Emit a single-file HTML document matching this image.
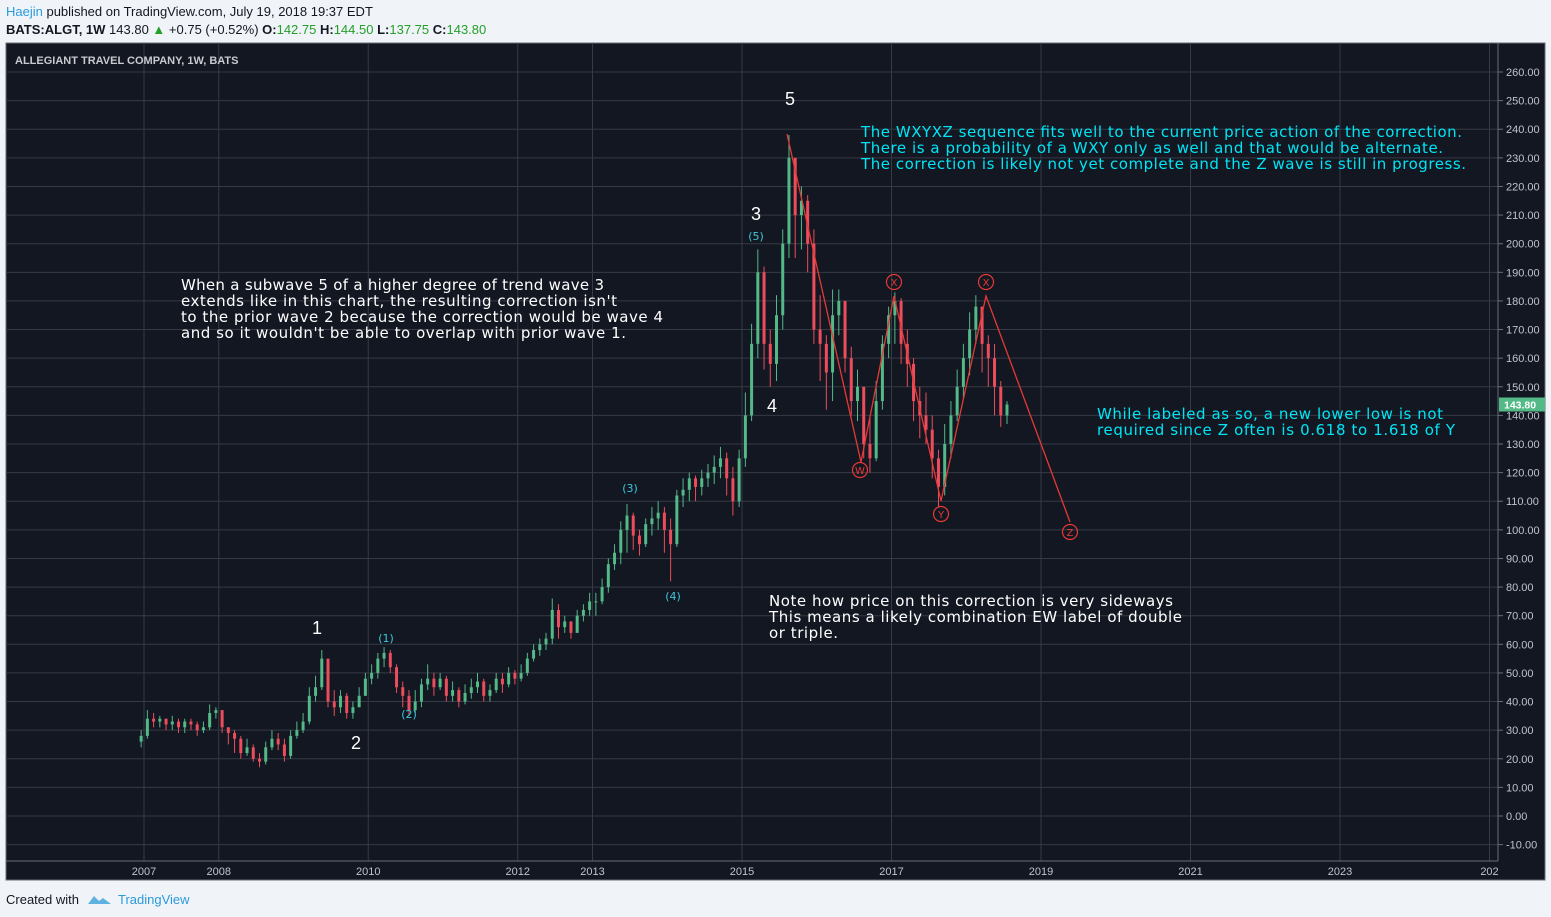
<!DOCTYPE html>
<html><head><meta charset="utf-8"><style>
html,body{margin:0;padding:0;background:#f0f3f7;width:1551px;height:917px;overflow:hidden;font-family:"Liberation Sans",Arial,sans-serif}
svg{position:absolute;left:0;top:0}
</style></head><body>
<svg id="s" width="1551" height="917" xmlns="http://www.w3.org/2000/svg">
<rect x="0" y="0" width="1551" height="917" fill="#f0f3f7"/>
<text x="6" y="16" font-size="13" fill="#131722"><tspan fill="#2a9bdc">Haejin</tspan> published on TradingView.com, July 19, 2018 19:37 EDT</text>
<text x="6" y="34" font-size="13" fill="#131722"><tspan font-weight="bold">BATS:ALGT, 1W</tspan>  143.80 <tspan fill="#22a02a">▲</tspan> +0.75 (+0.52%) <tspan font-weight="bold">O:</tspan><tspan fill="#22a02a">142.75</tspan> <tspan font-weight="bold">H:</tspan><tspan fill="#22a02a">144.50</tspan> <tspan font-weight="bold">L:</tspan><tspan fill="#22a02a">137.75</tspan> <tspan font-weight="bold">C:</tspan><tspan fill="#22a02a">143.80</tspan></text>
<rect x="6" y="43" width="1539" height="837" fill="#131722" stroke="#6a6d78" stroke-width="1"/>
<g id="grid"></g>
<line x1="1498" y1="43" x2="1498" y2="861" stroke="#6a6d78"/>
<line x1="6" y1="861" x2="1498" y2="861" stroke="#6a6d78"/>
<g id="candles"></g>
<text x="15" y="64" font-size="11" font-weight="bold" fill="#c8cad0">ALLEGIANT TRAVEL COMPANY, 1W, BATS</text>
<text x="6" y="904" font-size="13" fill="#131722">Created with</text>
<path d="M88 904 l6 -8 l5 5 l4 -3 l8 6 z" fill="#5fb2e0"/>
<text x="118" y="904" font-size="13" fill="#2a9bdc">TradingView</text>
</svg>
<script>
const yTicks=[260,250,240,230,220,210,200,190,180,170,160,150,140,130,120,110,100,90,80,70,60,50,40,30,20,10,0,-10];
const xTickYears=[2007,2008,2010,2012,2013,2015,2017,2019,2021,2023,2025];
const xTickLabels=["2007","2008","2010","2012","2013","2015","2017","2019","2021","2023","202"];
const startYear=2006.92;
const closes=[28,
34,33,34,32,33,31,33,32,30,31,36,37,
31,29,27,22,24,20,19,24,27,25,21,28,
30,33,42,45,55,40,38,42,36,38,42,48,
50,55,57,52,45,42,37,40,46,48,45,48,
42,44,40,43,45,47,42,44,48,46,50,48,
50,55,58,60,62,72,66,68,64,70,72,75,
75,80,88,92,100,105,98,95,102,104,106,100,
95,112,114,118,115,118,120,122,125,118,110,125,
140,165,190,165,158,175,200,230,210,215,200,170,
165,155,175,180,160,145,150,130,125,145,165,175,
180,165,158,145,140,135,125,115,130,140,150,160,
170,178,165,160,150,140,143.8];
const highs=[30,
37,36,35,34,35,34,34,34,33,33,39,38,
37,31,30,28,27,25,22,26,30,29,27,30,
33,36,45,49,58,53,44,44,43,40,45,50,
53,57,59,58,53,47,44,44,48,53,50,50,
49,47,45,46,48,50,48,46,50,50,52,51,
53,57,60,62,64,76,74,70,68,72,74,78,
78,83,90,95,103,109,106,100,104,108,110,108,
104,114,118,120,119,121,123,126,129,127,122,128,
148,172,198,192,170,182,205,238,228,220,217,205,
182,168,184,184,180,164,156,150,140,152,168,178,
183,181,170,160,150,148,140,128,137,145,156,165,
176,182,178,168,165,152,145];
const lows=[24,
27,31,31,30,30,29,29,30,28,29,30,34,
29,25,22,20,21,19,17,18,23,23,19,20,
27,29,32,40,44,38,35,36,34,34,38,42,
46,48,52,50,43,38,35,36,38,44,42,44,
40,40,38,39,41,43,40,40,43,43,45,46,
47,49,54,56,58,60,62,64,62,64,68,70,
70,74,78,86,88,92,93,91,94,98,100,92,
82,94,108,110,110,112,115,116,118,112,105,108,
122,138,160,156,150,152,170,195,195,198,190,165,
152,142,145,168,155,140,138,125,120,124,142,160,
165,158,150,138,132,130,118,108,112,125,138,146,
154,165,155,150,140,136,137];
const NS="http://www.w3.org/2000/svg";
function yS(v){return 816-v*2.8615;}
function xS(t){return 144+(t-2007)*74.75;}
function mk(tag,attrs,parent){const e=document.createElementNS(NS,tag);for(const k in attrs)e.setAttribute(k,attrs[k]);parent.appendChild(e);return e;}
const grid=document.getElementById('grid');
yTicks.forEach(v=>{
  const l=mk('line',{x1:6,x2:1498,y1:yS(v),y2:yS(v),stroke:'#363a45'},grid);
  
  
  const tk=mk('line',{x1:1498,x2:1503,y1:yS(v),y2:yS(v),stroke:'#6a6d78'},grid);
  
  
  const t=mk('text',{x:1506,y:yS(v)+4,'font-size':11,fill:'#c0c3ca'},grid);
  t.textContent=v.toFixed(2);
  
  
});
xTickYears.forEach((yr,i)=>{
  const x=xS(yr);
  const l=mk('line',{x1:x,x2:x,y1:43,y2:861,stroke:'#363a45'},grid);
  
  
  const t=mk('text',{x:x,y:875,'font-size':11,fill:'#c0c3ca','text-anchor':'middle'},grid);
  t.textContent=xTickLabels[i];
  
  
});
const cg=document.getElementById('candles');
closes.forEach((c,i)=>{
  const o=i===0?closes[0]-2:closes[i-1];
  const x=xS(startYear+i/12+1/24);
  const up=c>=o;const col=up?'#53b987':'#eb4d5c';
  const w=mk('line',{x1:x,x2:x,y1:yS(highs[i]),y2:yS(lows[i]),stroke:col,'stroke-width':1},cg);
  
  
  const top=yS(Math.max(o,c)),bot=yS(Math.min(o,c));
  const b=mk('rect',{x:x-1.5,y:top,width:3,height:Math.max(1,bot-top),fill:col},cg);
  
  
});
const last=closes[closes.length-1];
const pl=mk('rect',{x:1499,y:yS(last)-7,width:46,height:14,fill:'#53b987'},cg);


const pt=mk('text',{x:1504,y:yS(last)+4,'font-size':10.5,'font-weight':'bold',fill:'#fff'},cg);
pt.textContent=last.toFixed(2);


</script>
<svg width="1551" height="917" xmlns="http://www.w3.org/2000/svg" style="pointer-events:none">
<g font-family="'DejaVu Sans',Verdana,sans-serif">
<polyline points="787,134 861,462 894,296 941,501 986,296 1070,522" fill="none" stroke="#e53935" stroke-width="1.3"/>
<g fill="none" stroke="#e53935" stroke-width="1.2">
<circle cx="894" cy="282" r="7.5"/><circle cx="986" cy="282" r="7.5"/><circle cx="860" cy="470" r="7.5"/><circle cx="941" cy="514" r="7.5"/><circle cx="1070" cy="532" r="7.5"/></g>
<g fill="#e53935" font-size="10" text-anchor="middle">
<text x="894" y="286">X</text><text x="986" y="286">X</text><text x="860" y="474">W</text><text x="941" y="518">Y</text><text x="1070" y="536">Z</text></g>
<g fill="#ffffff" font-size="18" text-anchor="middle" font-family="'Liberation Sans',sans-serif">
<text x="790" y="105">5</text><text x="756" y="220">3</text><text x="772" y="412">4</text><text x="317" y="634">1</text><text x="356" y="749">2</text></g>
<g fill="#3cc8dc" font-size="11" text-anchor="middle">
<text x="756" y="240">(5)</text><text x="630" y="492">(3)</text><text x="673" y="600">(4)</text><text x="386" y="642">(1)</text><text x="409" y="718">(2)</text></g>
<g fill="#ffffff" font-size="15">
<text x="181" y="290" textLength="423">When a subwave 5 of a higher degree of trend wave 3</text>
<text x="181" y="306" textLength="436">extends like in this chart, the resulting correction isn't</text>
<text x="181" y="322" textLength="482">to the prior wave 2 because the correction would be wave 4</text>
<text x="181" y="338" textLength="445">and so it wouldn't be able to overlap with prior wave 1.</text></g>
<g fill="#00e5f5" font-size="15">
<text x="861" y="137" textLength="601">The WXYXZ sequence fits well to the current price action of the correction.</text>
<text x="861" y="153" textLength="582">There is a probability of a WXY only as well and that would be alternate.</text>
<text x="861" y="169" textLength="605">The correction is likely not yet complete and the Z wave is still in progress.</text></g>
<g fill="#00e5f5" font-size="15">
<text x="1097" y="419" textLength="346">While labeled as so, a new lower low is not</text>
<text x="1097" y="435" textLength="358">required since Z often is 0.618 to 1.618 of Y</text></g>
<g fill="#ffffff" font-size="15">
<text x="769" y="606" textLength="404">Note how price on this correction is very sideways</text>
<text x="769" y="622" textLength="413">This means a likely combination EW label of double</text>
<text x="769" y="638" textLength="69">or triple.</text></g>
</g></svg>
</body></html>
